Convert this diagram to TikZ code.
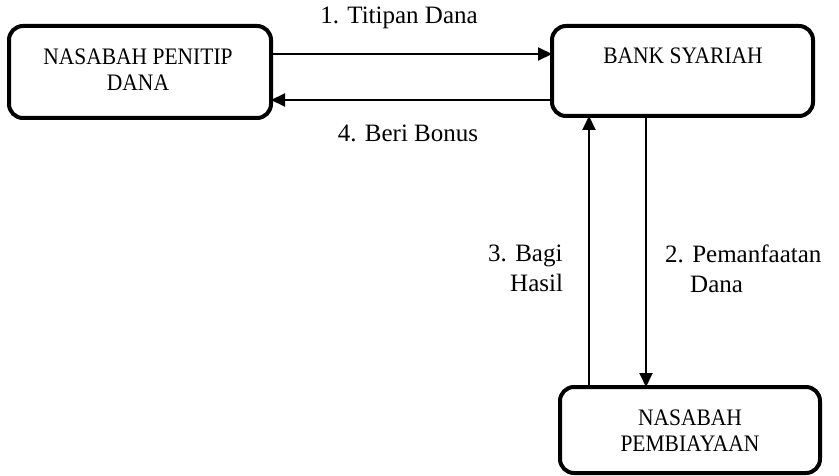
\documentclass[tikz,border=0pt]{standalone}
\usepackage{fontspec}
\setmainfont{Liberation Serif}
\usetikzlibrary{arrows.meta}
\newcommand{\tallcaps}[1]{\scalebox{1}[1.1]{#1}}
\tikzset{
  flowbox/.style={draw, line width=4pt, rounded corners=14pt},
  boxtext/.style={font=\fontsize{21.5}{26}\selectfont, align=center, inner sep=0pt},
  labeltext/.style={font=\fontsize{25}{30}\selectfont, inner sep=0pt},
  flow/.style={draw, line width=2pt, -{Triangle[length=14pt,width=13pt]}}
}
\begin{document}
\begin{tikzpicture}[x=1pt,y=-1pt]
  \useasboundingbox (0,0) rectangle (839,476);
  % boxes
  \draw[flowbox] (9,26) rectangle (271,118);
  \draw[flowbox] (552,26) rectangle (813,116);
  \draw[flowbox] (560,387) rectangle (820,473);
  \node[boxtext] (penitiptext) at (138,70) {\tallcaps{NASABAH PENITIP}\\\tallcaps{DANA}};
  \node[boxtext] (banktext) at (683,56) {\tallcaps{BANK SYARIAH}};
  \node[boxtext] (pembiayaantext) at (690,431) {\tallcaps{NASABAH}\\\tallcaps{PEMBIAYAAN}};
  % attachment points on the box borders
  \coordinate (p1) at (271,54);
  \coordinate (b1) at (552,54);
  \coordinate (p2) at (271,100);
  \coordinate (b2) at (552,100);
  \coordinate (bu) at (589,116);
  \coordinate (nu) at (589,387);
  \coordinate (bd) at (646,116);
  \coordinate (nd) at (646,387);
  % flows
  \draw[flow] (p1) -- (b1);
  \draw[flow] (b2) -- (p2);
  \draw[flow] (nu) -- (bu);
  \draw[flow] (bd) -- (nd);
  % labels
  \node[labeltext] (l1) at (399,18) {1. Titipan Dana};
  \node[labeltext] (l4) at (408,133) {4. Beri Bonus};
  \node[labeltext, anchor=north west, align=left] (l3) at (488,245) {3. Bagi\\\hspace{22pt}Hasil};
  \node[labeltext, anchor=north west, align=left] (l2) at (665,245) {2. Pemanfaatan\\\hspace{25pt}Dana};
\end{tikzpicture}
\end{document}
